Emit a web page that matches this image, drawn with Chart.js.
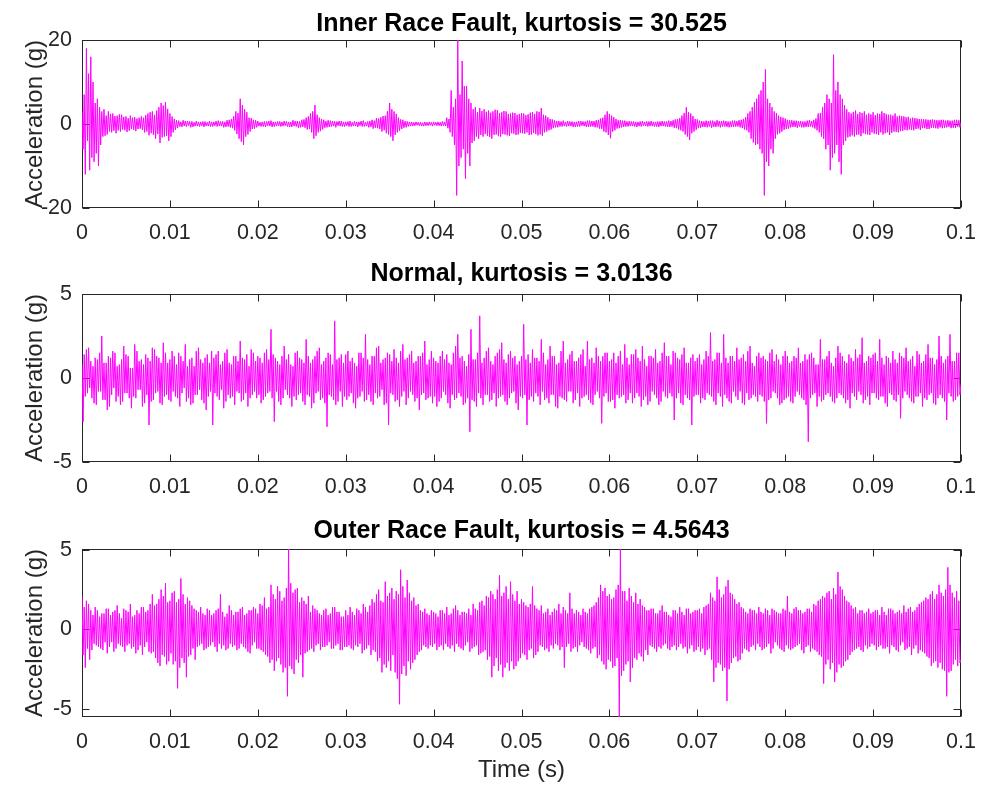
<!DOCTYPE html>
<html>
<head>
<meta charset="utf-8">
<script src="https://cdn.jsdelivr.net/npm/chart.js@4.4.0/dist/chart.umd.min.js"></script>
<style>
  html, body { margin: 0; padding: 0; background: #fff; }
  #wrap { position: relative; width: 981px; height: 789px; }
  canvas { position: absolute; left: 0; }
</style>
</head>
<body>
<div id="wrap">
  <canvas id="inner" width="981" height="254" style="top:0"></canvas>
  <canvas id="normal" width="981" height="255" style="top:254px"></canvas>
  <canvas id="outer" width="981" height="280" style="top:509px"></canvas>
</div>
<script>
// sampled signals, one value every 0.125 ms from 0 to 0.1 s
const sampleStep = 0.000125;

const innerRace = [
  3, -6, 7, -12, 18, -4, 12, -11, 16, -8,
  10, -9, 5, -7, 6, -10, 4, -5, 3, -3,
  3.5, -2.8, 2, -2.5, 3, -1.8, 2.4, -2, 2.5, -1.6,
  1.9, -2.2, 2, -1.5, 2.3, -1.8, 2.2, -1.3, 1.7, -1.5,
  1.8, -1.9, 1.4, -1.6, 2, -1.2, 1.5, -1.4, 1.6, -1.7,
  1.3, -1.2, 1.5, -1.1, 1.8, -1.4, 1.5, -2, 2.1, -1.8,
  2.5, -2.7, 2.8, -2.2, 3, -2.6, 2.2, -3.5, 3.2, -2.4,
  4, -4.5, 5, -3.2, 4.4, -3, 5.2, -2.8, 3.6, -4,
  2.5, -3, 1.8, -2, 1.2, -1.4, 0.9, -1, 0.8, -0.6,
  0.5, -0.7, 0.9, -0.5, 0.7, -0.6, 0.7, -0.4, 0.6, -0.8,
  0.6, -0.7, 0.4, -0.5, 0.7, -0.5, 0.5, -0.6, 0.5, -0.4,
  0.6, -0.7, 0.6, -0.5, 0.4, -0.5, 0.7, -0.6, 0.5, -0.6,
  0.5, -0.4, 0.7, -0.6, 0.8, -0.5, 0.6, -0.5, 0.6, -0.8,
  0.5, -0.7, 0.9, -0.6, 1, -0.8, 1.2, -1, 1.8, -1.5,
  3, -2.4, 2.6, -3.5, 6, -4.2, 4.5, -5, 3.5, -3,
  2.8, -2.5, 1.5, -1.8, 1.4, -1.2, 1, -1.1, 0.9, -0.8,
  0.7, -0.5, 0.4, -0.6, 0.5, -0.6, 0.6, -0.7, 0.6, -0.4,
  0.7, -0.5, 0.8, -0.7, 0.5, -0.6, 0.5, -0.5, 0.6, -0.4,
  0.6, -0.6, 0.5, -0.5, 0.7, -0.4, 0.6, -0.6, 0.5, -0.7,
  0.5, -0.7, 0.9, -0.5, 0.7, -0.6, 0.7, -0.9, 0.6, -0.8,
  1, -0.7, 1.1, -0.9, 1.5, -1.3, 1.8, -1.2, 2.5, -2,
  3, -3.5, 4.5, -2.8, 2.2, -2, 1.5, -1.7, 1.2, -1.3,
  1, -0.9, 0.7, -0.8, 0.9, -0.7, 0.8, -0.6, 0.7, -0.5,
  0.6, -0.8, 0.6, -0.4, 0.7, -0.5, 0.7, -0.6, 0.5, -0.6,
  0.5, -0.4, 0.6, -0.6, 0.7, -0.6, 0.4, -0.5, 0.6, -0.5,
  0.5, -0.7, 0.5, -0.4, 0.7, -0.6, 0.8, -0.6, 0.4, -0.5,
  0.6, -0.8, 0.7, -0.7, 1, -1.1, 0.8, -0.9, 1.4, -1,
  1.3, -1.2, 1.6, -1.8, 1.9, -1.5, 2, -2.2, 3, -2.5,
  5, -3, 3.5, -4, 3, -2.6, 2.4, -2, 1.5, -1.6,
  1.1, -1.2, 1, -0.9, 0.7, -0.8, 0.6, -0.6, 0.5, -0.5,
  0.5, -0.5, 0.4, -0.4, 0.5, -0.3, 0.4, -0.4, 0.4, -0.5,
  0.3, -0.5, 0.5, -0.4, 0.4, -0.4, 0.5, -0.3, 0.4, -0.5,
  0.5, -0.3, 0.4, -0.4, 0.5, -0.4, 0.4, -0.5, 0.6, -0.4,
  0.5, -0.5, 1.5, -1, 1.2, -2, 8, -3, 4, -5,
  6, -17, 20, -10, 7, -8, 15, -6, 9, -13,
  9, -7, 6, -10, 5, -4.5, 3.5, -4, 4, -3,
  2.8, -3.5, 3.8, -2.6, 3.1, -3, 3.5, -2.4, 2.9, -2.8,
  3.2, -3.1, 2.7, -3.5, 3, -2.6, 3.4, -2.5, 3.3, -2.9,
  2.6, -3, 2.8, -2.4, 3.1, -2.5, 3, -2.7, 2.4, -2.8,
  2.5, -2.2, 2.7, -2.3, 2.6, -2.6, 2.2, -2.5, 2.4, -2.1,
  2.6, -2.2, 2.5, -2.3, 2.1, -2, 2.3, -2.6, 2.7, -2.5,
  2.8, -2.1, 2.4, -2.4, 3, -2.7, 2.9, -2.5, 3.8, -2.8,
  2.2, -2, 2, -1.8, 1.6, -1.5, 1.2, -1.3, 1.1, -1,
  0.9, -0.8, 0.7, -0.8, 0.7, -0.6, 0.6, -0.6, 0.8, -0.5,
  0.5, -0.6, 0.7, -0.5, 0.6, -0.5, 0.6, -0.7, 0.5, -0.7,
  0.5, -0.6, 0.7, -0.6, 0.7, -0.4, 0.6, -0.5, 0.6, -0.7,
  0.8, -0.7, 0.8, -0.6, 0.7, -0.6, 0.7, -0.8, 0.9, -0.8,
  1, -1.1, 1.3, -1.2, 1.5, -1.8, 2.2, -2, 3, -2.6,
  2.4, -3.4, 2, -1.8, 1.6, -1.5, 1.2, -1.1, 0.9, -1,
  0.9, -0.8, 0.8, -0.7, 0.8, -0.6, 0.6, -0.6, 0.7, -0.5,
  0.6, -0.5, 0.6, -0.6, 0.5, -0.7, 0.5, -0.5, 0.6, -0.6,
  0.7, -0.4, 0.5, -0.5, 0.6, -0.6, 0.6, -0.5, 0.7, -0.5,
  0.5, -0.6, 0.5, -0.6, 0.6, -0.7, 0.6, -0.5, 0.7, -0.5,
  0.6, -0.6, 0.6, -0.7, 0.8, -0.7, 0.7, -0.6, 0.9, -0.9,
  1.1, -1, 1.2, -1.3, 1.4, -1.5, 2, -1.8, 2.6, -2.5,
  4, -3, 2.8, -3.8, 2.5, -2.2, 1.9, -1.8, 1.2, -1.4,
  1.1, -1, 0.8, -0.9, 0.7, -0.7, 0.6, -0.7, 0.8, -0.8,
  0.7, -0.6, 0.8, -0.9, 0.8, -0.7, 0.6, -0.7, 0.9, -0.6,
  0.7, -0.8, 0.7, -0.6, 0.8, -0.6, 0.7, -0.7, 0.6, -0.8,
  0.6, -0.7, 0.8, -0.7, 0.8, -0.6, 0.7, -0.6, 0.9, -0.8,
  1, -1, 1.2, -1.3, 1.6, -1.5, 2.5, -2, 3, -3.5,
  4, -4.4, 5.2, -5, 6, -4.8, 7, -6, 8, -7,
  10, -17, 13, -9, 6, -10, 5, -6, 4, -7,
  3, -3.5, 2.6, -2.5, 2, -2.2, 1.7, -1.8, 1.5, -1.4,
  1.3, -1.2, 1, -1.1, 0.9, -0.8, 0.9, -0.7, 0.8, -0.7,
  0.8, -0.9, 0.7, -0.6, 0.7, -0.8, 0.6, -0.8, 0.6, -0.7,
  0.8, -0.7, 0.9, -0.6, 0.7, -0.8, 1, -1.1, 1.3, -1.5,
  2.5, -2, 2.6, -3, 4, -3.5, 5, -6, 7, -5,
  6, -11, 5, -8, 16.5, -7, 8, -5, 10, -9,
  7, -12, 6, -5, 4.5, -4, 3.5, -3.2, 2.8, -3,
  2.5, -2.7, 2.9, -3, 3.2, -2.6, 2.4, -2.5, 2.8, -2.9,
  2.6, -2.2, 3, -2.4, 2.2, -2.5, 2.5, -2.6, 2.3, -2,
  2.8, -2.3, 2.1, -2.4, 2.5, -2.6, 2.4, -2, 3, -2.5,
  2.6, -2.2, 2.4, -2, 2.2, -2.6, 2.2, -2.1, 2, -1.8,
  2.5, -1.9, 1.8, -2, 2, -1.7, 1.9, -1.6, 1.8, -1.4,
  1.6, -1.5, 1.7, -1.3, 1.3, -1.4, 1.5, -1.5, 1.4, -1.2,
  1.3, -1.1, 1.2, -1.4, 1.2, -1, 1.1, -1, 1.1, -1.2,
  1, -1.2, 1, -0.9, 1.1, -0.9, 1, -1, 0.9, -1.1,
  0.9, -0.8, 1, -1, 1, -0.9, 0.8, -0.8, 0.9, -0.7,
  0.8, -1, 0.8, -0.9, 1, -0.9, 1, -0.7, 0.9, -0.8,
  0.3
];

const normal = [
  0.8, -2.6, 1.4, -1.1, 1.7, -0.9, 1.8, -0.6, 1.0, -1.2,
  0.7, -1.5, 1.2, -1.6, 1.1, -0.8, 1.5, -0.8, 2.5, -1.3,
  0.9, -1.3, 0.9, -1.9, 1.3, -1.7, 1.2, -1.0, 1.6, -0.6,
  1.5, -1.4, 0.7, -1.1, 0.8, -1.6, 1.1, -1.4, 1.9, -0.9,
  1.4, -0.9, 1.3, -1.2, 0.6, -1.8, 0.6, -1.1, 2.0, -1.2,
  1.6, -0.7, 1.0, -0.7, 1.1, -1.7, 0.8, -1.5, 1.4, -1.0,
  1.2, -2.8, 1.0, -1.4, 1.8, -1.3, 1.7, -0.9, 1.3, -0.8,
  1.2, -1.5, 0.9, -1.6, 2.1, -1.1, 1.5, -1.0, 0.9, -1.3,
  1.1, -1.4, 1.6, -0.8, 1.3, -1.1, 0.8, -1.2, 1.5, -1.7,
  1.3, -0.9, 1.0, -0.6, 2.0, -1.4, 0.7, -1.2, 1.1, -1.6,
  1.2, -1.5, 0.7, -1.0, 1.6, -1.0, 1.8, -0.7, 1.1, -1.3,
  0.9, -1.5, 1.2, -1.9, 1.4, -1.1, 0.9, -0.8, 1.6, -2.8,
  1.2, -0.9, 1.4, -1.1, 1.6, -1.3, 0.8, -0.7, 1.0, -1.8,
  1.5, -1.4, 1.7, -1.0, 0.9, -1.2, 0.8, -1.1, 1.3, -1.6,
  1.3, -0.8, 1.0, -0.9, 2.2, -1.4, 1.2, -1.3, 1.1, -0.9,
  1.4, -1.7, 0.7, -1.2, 1.7, -1.0, 1.5, -0.8, 1.0, -1.2,
  1.3, -1.0, 1.2, -1.5, 0.9, -1.3, 1.5, -1.1, 1.7, -0.9,
  1.1, -0.8, 2.9, -1.2, 1.4, -2.6, 1.2, -0.8, 1.0, -1.4,
  0.8, -1.6, 1.3, -1.2, 1.9, -0.7, 1.1, -1.0, 1.4, -1.2,
  0.8, -1.7, 0.7, -1.1, 1.5, -1.3, 1.6, -1.0, 1.2, -0.9,
  1.1, -1.4, 0.9, -1.6, 2.3, -1.0, 1.3, -1.1, 0.9, -1.8,
  1.1, -1.5, 1.3, -0.9, 1.6, -0.8, 1.8, -1.3, 0.8, -1.2,
  1.0, -1.5, 1.2, -2.9, 1.5, -1.0, 1.4, -1.1, 0.8, -1.3,
  3.4, -1.6, 1.1, -1.4, 1.2, -0.8, 1.4, -1.7, 0.9, -1.1,
  1.4, -1.3, 1.6, -1.1, 1.0, -0.9, 1.2, -1.5, 0.9, -1.8,
  0.7, -1.2, 1.5, -1.1, 1.5, -0.8, 1.2, -1.4, 2.6, -1.3,
  1.1, -1.0, 0.8, -1.4, 1.3, -1.6, 1.3, -0.9, 1.8, -1.2,
  1.9, -1.1, 0.9, -0.7, 1.1, -1.6, 1.2, -1.5, 1.5, -2.8,
  1.4, -0.9, 1.0, -1.0, 1.7, -1.4, 1.2, -1.3, 0.9, -1.7,
  1.6, -1.1, 2.0, -0.8, 1.1, -1.6, 1.2, -1.2, 1.4, -0.8,
  1.6, -1.0, 0.9, -1.4, 1.0, -1.2, 1.3, -1.9, 1.3, -1.0,
  1.5, -0.9, 2.2, -1.3, 0.8, -1.2, 1.1, -1.1, 1.6, -1.5,
  1.2, -1.1, 1.0, -1.7, 0.9, -1.4, 1.3, -1.2, 1.6, -0.8,
  1.1, -1.0, 1.4, -1.5, 0.9, -1.8, 0.8, -1.0, 1.5, -1.3,
  1.9, -1.2, 2.6, -0.9, 1.2, -1.1, 1.3, -1.6, 1.0, -1.5,
  0.7, -1.2, 1.4, -3.2, 2.9, -1.3, 1.1, -1.4, 1.1, -1.7,
  1.5, -0.9, 3.7, -1.2, 0.9, -1.6, 1.2, -1.0, 1.6, -1.0,
  1.8, -1.4, 1.0, -1.3, 0.8, -0.9, 1.3, -1.7, 1.5, -1.2,
  1.7, -1.1, 2.1, -1.0, 1.1, -1.4, 0.9, -1.6, 1.4, -1.2,
  1.6, -0.9, 1.2, -0.8, 1.3, -1.5, 0.8, -1.9, 1.0, -1.1,
  1.3, -1.2, 3.2, -1.0, 1.1, -2.8, 1.4, -1.3, 0.9, -1.1,
  1.7, -1.4, 1.2, -0.9, 1.2, -1.1, 1.0, -1.6, 2.3, -0.8,
  1.5, -1.3, 0.8, -1.2, 1.1, -1.5, 1.9, -1.0, 1.3, -1.0,
  1.3, -1.7, 0.8, -1.8, 0.9, -1.1, 1.6, -1.2, 2.2, -1.3,
  0.9, -1.4, 1.1, -0.8, 1.4, -0.8, 1.6, -1.5, 1.0, -1.3,
  1.0, -0.9, 1.2, -1.7, 1.4, -1.2, 1.7, -1.1, 0.7, -1.0,
  2.2, -1.3, 1.1, -1.5, 1.2, -1.6, 0.9, -1.0, 1.8, -0.8,
  1.3, -1.2, 1.0, -2.7, 1.3, -1.1, 1.5, -0.9, 1.5, -1.4,
  1.0, -1.4, 1.1, -1.3, 1.5, -1.8, 0.9, -1.0, 1.3, -1.2,
  1.6, -1.1, 0.8, -1.0, 2.0, -1.5, 1.2, -1.3, 0.8, -0.9,
  1.4, -1.5, 1.4, -1.2, 1.7, -0.9, 1.2, -1.1, 1.0, -1.7,
  1.9, -1.3, 1.1, -1.1, 0.7, -1.6, 1.3, -1.4, 1.3, -0.8,
  1.2, -1.0, 1.7, -1.2, 0.9, -1.6, 1.0, -1.4, 1.5, -0.8,
  2.1, -1.1, 1.3, -1.2, 1.3, -0.9, 0.8, -1.1, 1.6, -2.5,
  1.5, -1.2, 1.2, -0.9, 1.1, -1.5, 1.4, -1.6, 1.8, -1.0,
  0.9, -1.2, 0.9, -1.3, 1.2, -2.8, 1.4, -1.1, 1.0, -1.0,
  1.2, -1.0, 1.4, -1.5, 0.8, -1.2, 1.1, -1.3, 1.6, -0.9,
  1.3, -1.0, 2.7, -1.1, 1.0, -1.4, 1.1, -1.6, 1.5, -0.9,
  1.5, -1.1, 0.9, -1.7, 2.6, -1.0, 1.2, -1.2, 0.9, -1.4,
  1.3, -1.5, 1.3, -0.8, 1.0, -1.1, 1.8, -1.3, 1.1, -0.8,
  1.2, -1.5, 1.4, -1.6, 1.0, -0.9, 1.6, -1.3, 1.9, -1.2,
  0.9, -1.0, 0.7, -1.1, 1.3, -1.4, 1.5, -1.0, 1.2, -1.1,
  1.3, -1.4, 1.1, -2.7, 1.0, -1.3, 1.5, -1.2, 1.7, -0.8,
  1.0, -0.9, 1.4, -1.2, 1.1, -1.6, 0.8, -1.5, 1.3, -1.3,
  1.6, -1.2, 1.3, -1.1, 0.9, -1.4, 1.0, -1.5, 1.3, -1.1,
  1.2, -0.8, 1.8, -1.0, 0.9, -1.2, 1.0, -1.3, 1.4, -1.6,
  1.1, -3.8, 1.4, -1.2, 1.5, -1.0, 1.2, -0.9, 0.8, -1.7,
  0.8, -1.1, 2.3, -1.4, 1.1, -1.3, 1.1, -1.0, 1.3, -0.9,
  1.6, -1.1, 0.9, -1.4, 0.7, -1.5, 1.2, -1.2, 1.9, -0.9,
  1.5, -1.0, 1.3, -1.2, 1.0, -1.5, 0.9, -1.3, 1.4, -1.8,
  1.2, -0.9, 1.0, -1.1, 1.7, -1.3, 1.2, -0.8, 1.4, -1.0,
  2.4, -1.5, 0.9, -1.3, 1.0, -1.1, 1.3, -1.6, 1.2, -0.9,
  1.4, -0.9, 1.5, -1.2, 1.0, -1.3, 2.3, -1.1, 1.2, -1.1,
  0.8, -1.5, 1.3, -1.7, 1.2, -0.9, 0.9, -1.0, 1.6, -1.3,
  1.1, -1.4, 0.9, -1.0, 1.5, -2.4, 1.3, -1.2, 1.2, -0.8,
  1.8, -1.0, 1.0, -1.2, 1.1, -1.4, 1.3, -1.5, 0.7, -1.1,
  1.6, -1.1, 1.4, -0.9, 0.9, -1.7, 1.0, -1.2, 1.4, -1.3,
  2.0, -1.0, 1.2, -0.9, 1.2, -1.5, 0.8, -1.6, 1.1, -1.2,
  2.5, -1.0, 1.3, -1.2, 0.9, -1.4, 1.1, -2.5, 1.3, -0.9,
  2.6, -1.1, 1.0, -1.4, 1.0, -1.3, 1.5, -1.1, 1.5, -1.0,
  -0.4
];

const outerRace = [
  2.1, -1.6, 1.4, -2.4, 1.8, -1.2, 1.6, -1.9, 1.2, -1.3,
  0.9, -0.9, 1.4, -1.0, 1.2, -1.1, 0.8, -1.2, 1.0, -1.3,
  1.0, -0.8, 1.3, -1.5, 1.3, -1.1, 0.9, -0.8, 1.1, -1.4,
  1.2, -1.2, 1.5, -0.9, 1.0, -1.0, 0.7, -1.1, 1.3, -1.4,
  1.2, -1.0, 1.1, -0.9, 1.6, -1.2, 0.8, -1.1, 0.9, -1.5,
  1.2, -1.3, 1.0, -1.0, 1.4, -1.6, 1.4, -1.1, 1.1, -0.8,
  1.2, -1.4, 1.6, -1.5, 2.2, -1.4, 1.5, -1.8, 1.6, -2.1,
  1.9, -2.3, 2.5, -1.6, 2.1, -1.7, 2.9, -2.2, 1.7, -2.0,
  1.8, -1.5, 2.3, -2.2, 2.4, -2.0, 1.7, -3.7, 1.9, -2.4,
  3.2, -1.8, 2.2, -2.1, 1.6, -3.0, 2.0, -1.7, 1.8, -1.6,
  1.5, -1.2, 1.3, -1.9, 1.2, -1.1, 1.1, -1.0, 1.4, -0.9,
  1.0, -1.3, 0.9, -1.2, 1.3, -1.1, 1.2, -1.0, 0.9, -0.8,
  1.0, -1.1, 1.2, -1.4, 1.3, -0.9, 2.2, -1.2, 1.1, -1.0,
  0.8, -1.3, 1.0, -1.2, 1.5, -0.9, 1.2, -1.1, 0.9, -1.0,
  1.1, -1.3, 1.1, -1.2, 1.3, -0.9, 1.4, -1.1, 0.9, -1.2,
  1.0, -1.4, 1.2, -1.5, 1.2, -1.0, 1.4, -0.8, 1.3, -1.2,
  1.0, -1.2, 1.6, -1.3, 1.5, -1.4, 2.0, -1.6, 1.3, -1.7,
  1.4, -2.1, 2.8, -1.9, 2.2, -2.6, 1.9, -2.0, 2.7, -1.8,
  2.4, -2.2, 1.8, -2.7, 2.0, -2.4, 2.6, -4.2, 5.1, -2.3,
  2.9, -2.5, 2.3, -2.8, 2.5, -1.9, 2.6, -2.1, 1.7, -1.6,
  2.0, -3.0, 1.8, -1.5, 1.6, -1.4, 2.1, -1.3, 1.1, -1.2,
  1.5, -1.4, 1.3, -1.0, 1.2, -0.9, 1.0, -1.3, 0.9, -1.1,
  1.2, -1.1, 1.3, -1.0, 0.9, -0.8, 1.0, -1.2, 1.4, -1.2,
  1.4, -1.0, 1.1, -0.9, 1.1, -1.3, 0.8, -1.3, 0.8, -1.1,
  1.2, -1.1, 0.9, -1.0, 1.4, -1.2, 1.1, -1.3, 0.9, -1.0,
  1.3, -1.1, 1.2, -0.9, 1.0, -1.5, 1.6, -1.3, 1.4, -1.2,
  1.1, -1.0, 1.5, -1.6, 1.9, -1.3, 1.7, -1.4, 2.2, -2.0,
  2.5, -1.8, 1.8, -2.7, 1.7, -2.2, 3.0, -2.4, 2.1, -2.0,
  2.3, -2.6, 2.6, -1.6, 1.9, -2.7, 2.4, -3.1, 2.2, -4.7,
  3.75, -2.8, 2.7, -2.3, 2.0, -2.9, 3.1, -2.0, 2.3, -2.5,
  1.8, -2.1, 2.0, -1.9, 1.5, -1.6, 1.6, -1.4, 1.2, -1.3,
  1.1, -1.0, 1.3, -1.1, 1.0, -1.2, 0.9, -1.0, 1.2, -1.1,
  1.1, -0.9, 1.0, -1.3, 0.8, -1.1, 1.2, -1.0, 1.2, -1.3,
  1.0, -0.9, 1.4, -1.1, 0.9, -1.2, 1.0, -1.0, 1.3, -1.4,
  1.5, -0.9, 1.2, -1.1, 0.9, -1.2, 1.1, -1.3, 1.1, -1.0,
  1.0, -0.8, 1.3, -1.4, 0.9, -1.2, 1.6, -1.1, 1.3, -1.0,
  1.2, -1.6, 1.7, -1.5, 1.8, -1.4, 1.5, -1.3, 2.1, -1.9,
  2.0, -1.7, 2.4, -3.0, 2.2, -2.3, 1.9, -1.8, 2.5, -2.6,
  3.4, -2.2, 2.1, -3.0, 2.3, -2.4, 2.7, -2.1, 1.9, -2.6,
  3.0, -2.0, 2.2, -2.5, 1.8, -2.3, 2.4, -2.0, 1.6, -1.8,
  1.9, -1.5, 1.7, -1.6, 1.5, -1.9, 1.4, -1.3, 1.6, -1.2,
  2.7, -1.8, 1.5, -1.6, 1.3, -1.4, 1.2, -1.0, 1.5, -1.1,
  1.0, -1.3, 1.1, -1.2, 1.3, -1.4, 0.9, -1.0, 1.1, -1.2,
  1.3, -0.9, 1.2, -1.0, 1.6, -1.3, 1.0, -1.1, 1.4, -2.4,
  1.2, -1.1, 1.0, -0.9, 2.3, -1.4, 1.3, -1.2, 1.0, -1.1,
  1.2, -1.4, 1.1, -1.0, 0.9, -0.8, 1.3, -1.1, 1.1, -1.2,
  1.0, -1.3, 1.3, -1.5, 1.4, -1.2, 1.5, -1.1, 1.7, -1.8,
  2.0, -1.6, 2.8, -2.0, 2.4, -2.2, 2.6, -2.5, 2.1, -1.9,
  2.2, -2.0, 1.9, -2.4, 2.0, -2.3, 2.5, -1.8, 2.8, -5.6,
  5.1, -2.9, 2.4, -2.6, 2.4, -2.2, 1.8, -2.0, 2.6, -3.3,
  2.1, -2.4, 1.7, -1.8, 2.3, -1.9, 1.6, -1.5, 1.9, -1.7,
  1.5, -2.0, 1.4, -1.3, 1.2, -1.6, 1.2, -1.0, 1.3, -1.1,
  1.3, -1.2, 1.0, -1.4, 1.0, -1.1, 1.2, -1.2, 1.5, -1.0,
  1.1, -0.9, 1.1, -1.2, 0.9, -1.3, 0.8, -1.1, 1.2, -1.0,
  1.2, -1.3, 1.0, -1.1, 1.4, -0.9, 1.1, -1.2, 0.9, -1.1,
  1.3, -1.5, 1.3, -1.2, 1.0, -1.0, 1.1, -1.4, 1.2, -1.3,
  1.2, -1.1, 1.3, -1.4, 1.0, -1.2, 1.4, -1.6, 1.5, -1.3,
  1.6, -1.2, 2.3, -1.9, 2.0, -3.3, 1.8, -2.4, 3.3, -2.1,
  2.5, -2.2, 2.0, -2.6, 2.2, -2.4, 2.7, -4.5, 3.1, -2.5,
  2.3, -2.1, 2.2, -1.8, 1.9, -1.7, 1.6, -2.0, 1.7, -1.9,
  1.4, -1.5, 1.3, -1.2, 1.1, -1.3, 1.0, -1.4, 1.3, -1.1,
  1.2, -1.0, 1.2, -1.3, 1.0, -0.9, 1.4, -1.1, 1.1, -1.3,
  1.0, -1.2, 1.3, -1.1, 1.2, -0.9, 0.9, -1.5, 1.3, -1.2,
  1.2, -0.8, 1.1, -1.0, 1.0, -1.2, 1.0, -1.3, 1.3, -1.4,
  1.2, -1.0, 2.1, -1.2, 1.1, -1.3, 1.0, -1.2, 1.3, -1.1,
  1.4, -1.0, 1.2, -0.9, 1.2, -1.3, 1.0, -1.5, 1.1, -1.1,
  1.3, -1.0, 1.3, -1.4, 1.1, -1.2, 1.6, -1.3, 1.5, -1.4,
  1.8, -1.6, 1.9, -1.7, 2.1, -3.4, 2.0, -2.2, 2.3, -1.9,
  2.4, -2.5, 1.9, -2.1, 2.6, -3.3, 2.2, -2.7, 3.6, -2.2,
  2.7, -2.4, 2.5, -2.3, 2.1, -2.0, 1.8, -1.9, 1.7, -1.6,
  1.5, -1.4, 1.3, -1.3, 1.4, -1.2, 1.0, -1.1, 1.2, -1.3,
  1.2, -1.4, 1.0, -1.0, 1.1, -1.2, 1.3, -1.1, 1.0, -0.9,
  1.1, -1.0, 1.2, -1.3, 1.2, -1.1, 0.9, -1.0, 1.4, -1.2,
  1.1, -1.2, 0.9, -1.1, 1.3, -1.5, 1.3, -1.0, 1.2, -1.1,
  1.0, -1.3, 1.1, -1.4, 1.2, -1.0, 1.0, -0.8, 1.5, -1.3,
  1.1, -1.2, 1.3, -1.1, 1.4, -1.6, 1.1, -1.2, 1.2, -1.0,
  1.4, -1.5, 1.6, -1.3, 1.7, -1.4, 1.8, -1.5, 2.0, -1.7,
  1.9, -1.8, 2.2, -2.3, 2.4, -2.1, 1.9, -2.0, 2.2, -2.4,
  2.8, -2.1, 2.3, -2.5, 2.1, -2.6, 2.5, -4.2, 3.9, -2.7,
  2.8, -2.6, 2.3, -2.2, 2.0, -1.9, 2.4, -2.3, 1.8, -2.1,
  -1.9
];

const timeTicks = [0, 0.01, 0.02, 0.03, 0.04, 0.05, 0.06, 0.07, 0.08, 0.09, 0.1];
const timeLabels = ['0', '0.01', '0.02', '0.03', '0.04', '0.05', '0.06', '0.07', '0.08', '0.09', '0.1'];
const innerTicks = [-20, 0, 20];
const normalTicks = [-5, 0, 5];
const outerTicks = [-5, 0, 5];

const axisColor = '#262626';
const fontFamily = '"Liberation Sans", Arial, Helvetica, sans-serif';

// matlab style box with inward ticks on all four sides
const boxTicks = {
  id: 'boxTicks',
  beforeDatasetsDraw(chart) {
    const { ctx, chartArea: a, scales: { x, y } } = chart;
    const L = Math.round(a.left) + 0.5, R = Math.round(a.right) - 0.5;
    const T = Math.round(a.top) + 0.5, B = Math.round(a.bottom) - 0.5;
    ctx.save();
    ctx.strokeStyle = axisColor;
    ctx.lineWidth = 1;
    ctx.beginPath();
    x.ticks.forEach(t => {
      const px = Math.round(x.getPixelForValue(t.value)) + 0.5;
      ctx.moveTo(px, B); ctx.lineTo(px, B - 7);
      ctx.moveTo(px, T); ctx.lineTo(px, T + 7);
    });
    y.ticks.forEach(t => {
      const py = Math.round(y.getPixelForValue(t.value)) + 0.5;
      ctx.moveTo(L, py); ctx.lineTo(L + 7, py);
      ctx.moveTo(R, py); ctx.lineTo(R - 7, py);
    });
    ctx.stroke();
    ctx.strokeRect(L, T, R - L, B - T);
    ctx.restore();
  }
};

function makePanel(id, values, title, titlePad, yTicks, yMin, yMax, xAxisHeight, showTime) {
  const points = values.map((v, i) => ({ x: i * sampleStep, y: v }));
  return new Chart(document.getElementById(id), {
    type: 'line',
    data: {
      datasets: [{
        data: points,
        borderColor: '#ff00ff',
        borderWidth: 1,
        pointRadius: 0,
        tension: 0,
        fill: false
      }]
    },
    options: {
      responsive: false,
      animation: false,
      events: [],
      layout: { padding: { left: 0, right: 20, top: 0, bottom: 0 } },
      plugins: {
        legend: { display: false },
        tooltip: { enabled: false },
        title: {
          display: true,
          fullSize: false, // centre over the axes, not the canvas
          text: title,
          color: '#000',
          font: { family: fontFamily, size: 25, weight: 'bold' },
          padding: { top: titlePad, bottom: 10 - titlePad }
        }
      },
      scales: {
        x: {
          type: 'linear',
          min: 0,
          max: 0.1,
          afterBuildTicks: s => { s.ticks = timeTicks.map(v => ({ value: v })); },
          afterFit: s => { s.height = xAxisHeight; },
          // grid hidden, tickLength only used as the label gap
          grid: { display: false, drawTicks: true, tickLength: 12 },
          border: { display: false },
          ticks: {
            color: axisColor,
            font: { family: fontFamily, size: 21.5 },
            padding: 0,
            maxRotation: 0,
            autoSkip: false,
            callback: (v, i) => timeLabels[i]
          },
          title: {
            display: showTime,
            text: 'Time (s)',
            color: axisColor,
            font: { family: fontFamily, size: 24 },
            padding: { top: 0, bottom: 4 }
          }
        },
        y: {
          min: yMin,
          max: yMax,
          afterBuildTicks: s => { s.ticks = yTicks.map(v => ({ value: v })); },
          afterFit: s => { s.width = 82; },
          grid: { display: false, drawTicks: true, tickLength: 10 },
          border: { display: false },
          ticks: {
            color: axisColor,
            font: { family: fontFamily, size: 21.5 },
            padding: 0,
            callback: v => String(v)
          },
          title: {
            display: true,
            text: 'Acceleration (g)',
            color: axisColor,
            font: { family: fontFamily, size: 24 },
            padding: { top: 21, bottom: 0 }
          }
        }
      }
    },
    plugins: [boxTicks]
  });
}

makePanel('inner', innerRace, 'Inner Race Fault, kurtosis = 30.525', 9, innerTicks, -20, 20, 46, false);
makePanel('normal', normal, 'Normal, kurtosis = 3.0136', 5, normalTicks, -5, 5, 47, false);
makePanel('outer', outerRace, 'Outer Race Fault, kurtosis = 4.5643', 7, outerTicks, -5.5, 5.05, 72, true);
</script>
</body>
</html>
